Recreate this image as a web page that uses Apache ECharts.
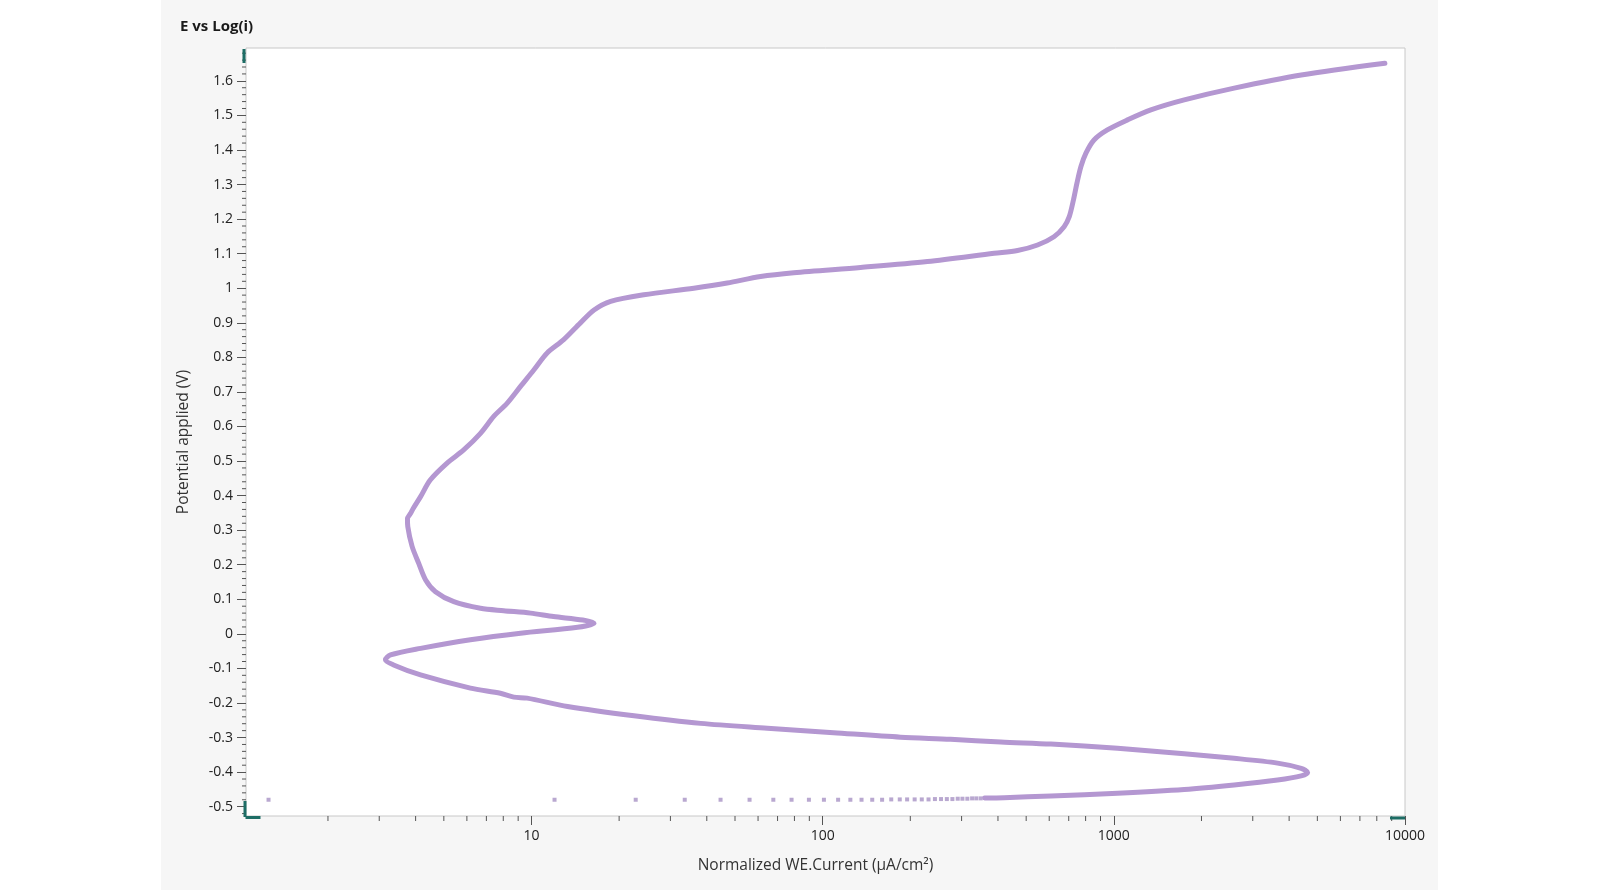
<!DOCTYPE html>
<html>
<head>
<meta charset="utf-8">
<script src="https://cdn.jsdelivr.net/npm/echarts@6/dist/echarts.min.js"></script>
<style>
html,body{margin:0;padding:0;background:#ffffff;}
#chart{width:1600px;height:890px;}
</style>
</head>
<body>
<div id="chart"></div>
<script>
// ---- data ----
const curveCurrent = [360, 420, 608, 1030, 1745, 2590, 3650, 4400, 4630, 4400, 3650, 2590, 1745, 1030, 608, 409, 275, 185, 109, 64.6, 38.1, 22.5, 13.3, 9.66, 8.7, 7.82, 6.17, 4.16, 3.36, 3.15, 3.28, 4.16, 6.17, 9.17, 14.4, 16.4, 15.0, 11.9, 9.93, 8.03, 6.68, 5.41, 4.68, 4.33, 4.10, 3.89, 3.76, 3.75, 3.84, 3.92, 4.16, 4.49, 5.13, 5.85, 6.68, 7.42, 8.24, 9.17, 10.2, 11.3, 12.9, 14.7, 16.4, 18.7, 24.3, 36.1, 47, 61.2, 79.6, 135, 229, 388, 467, 547, 623, 675, 703, 727, 747, 771, 802, 855, 950, 1114, 1340, 1745, 2590, 4400, 8530];
const curvePotential = [-0.475, -0.474, -0.469, -0.461, -0.450, -0.437, -0.423, -0.411, -0.401, -0.389, -0.374, -0.360, -0.347, -0.331, -0.319, -0.313, -0.305, -0.299, -0.286, -0.273, -0.259, -0.237, -0.210, -0.186, -0.183, -0.172, -0.157, -0.119, -0.090, -0.075, -0.061, -0.042, -0.017, 0.002, 0.019, 0.031, 0.040, 0.050, 0.060, 0.067, 0.074, 0.093, 0.122, 0.156, 0.204, 0.253, 0.310, 0.333, 0.348, 0.362, 0.397, 0.445, 0.494, 0.532, 0.580, 0.629, 0.667, 0.716, 0.764, 0.812, 0.851, 0.899, 0.937, 0.962, 0.981, 1.000, 1.015, 1.034, 1.045, 1.060, 1.077, 1.101, 1.109, 1.125, 1.149, 1.178, 1.207, 1.256, 1.304, 1.352, 1.391, 1.429, 1.458, 1.487, 1.516, 1.545, 1.579, 1.617, 1.651];
const dotCurrent = [1.25, 12.0, 22.8, 33.6, 44.6, 56.1, 67.7, 78.2, 89.7, 101, 113, 124.5, 136, 148, 160, 172, 184, 195, 207, 219, 231, 243, 255, 267, 279, 291, 302, 314, 326, 337, 349];
const dotPotential = [-0.480, -0.480, -0.480, -0.480, -0.480, -0.480, -0.480, -0.480, -0.480, -0.480, -0.480, -0.480, -0.480, -0.480, -0.480, -0.479, -0.479, -0.479, -0.479, -0.479, -0.479, -0.478, -0.478, -0.478, -0.478, -0.477, -0.477, -0.477, -0.476, -0.476, -0.476];
const xMin = 1.046, xMax = 10000;
const yMin = -0.527, yMax = 1.695;
const xMajorTicks = [10, 100, 1000, 10000];
const yMajorStep = 0.1;

// minor tick values (axis values, not marks)
const xMinorTicks = [];
[1, 10, 100, 1000].forEach(d => { for (let k = 2; k <= 9; k++) { const v = d * k; if (v > xMin && v < xMax) xMinorTicks.push(v); } });
const yMinorTicks = [];
for (let i = Math.ceil(yMin / 0.02); i * 0.02 < yMax; i++) {
  const v = Math.round(i * 0.02 * 1000) / 1000;
  if (Math.abs(Math.round(v / yMajorStep) * yMajorStep - v) > 1e-6) yMinorTicks.push(v);
}

const FONT = 'Open Sans';
const chart = echarts.init(document.getElementById('chart'));
const teal = '#1d6d65';
chart.setOption({
  animation: false,
  backgroundColor: '#ffffff',
  graphic: [
    { type: 'rect', z: -10, silent: true, shape: { x: 161, y: 0, width: 1277, height: 890 }, style: { fill: '#f6f6f6' } },
    { type: 'rect', z: 100, silent: true, shape: { x: 242.5, y: 49, width: 3, height: 14 }, style: { fill: teal } },
    { type: 'rect', z: 100, silent: true, shape: { x: 243.5, y: 801, width: 3, height: 16 }, style: { fill: teal } },
    { type: 'rect', z: 100, silent: true, shape: { x: 245.5, y: 816, width: 15, height: 3 }, style: { fill: teal } },
    { type: 'rect', z: 100, silent: true, shape: { x: 1390, y: 816.5, width: 15, height: 3 }, style: { fill: teal } }
  ],
  title: {
    text: 'E vs Log(i)', left: 175, top: 14,
    textStyle: { fontFamily: FONT, fontWeight: 'bold', fontSize: 15, color: '#1a1a1a' }
  },
  grid: {
    left: 246, top: 48, right: 195, bottom: 74,
    show: true, backgroundColor: '#ffffff', borderColor: '#c8c8c8', borderWidth: 1
  },
  xAxis: {
    type: 'log', logBase: 10, min: xMin, max: xMax,
    name: 'Normalized WE.Current (µA/cm²)', nameLocation: 'middle', nameGap: 42,
    nameTextStyle: { fontFamily: FONT, fontSize: 15.5, color: '#333333', padding: [0, 20, 0, 0] },
    axisLine: { show: false, onZero: false },
    axisTick: { show: true, length: 9, lineStyle: { color: '#555555', width: 1 } },
    splitLine: { show: false },
    axisLabel: {
      showMinLabel: false, margin: 13, fontFamily: FONT, fontSize: 14, color: '#222222',
      formatter: v => { const r = Math.round(v); return xMajorTicks.indexOf(r) >= 0 ? String(r) : ''; }
    }
  },
  yAxis: {
    type: 'value', min: yMin, max: yMax, splitNumber: 22,
    name: 'Potential applied (V)', nameLocation: 'middle', nameGap: 54, nameRotate: 90,
    nameTextStyle: { fontFamily: FONT, fontSize: 15.5, color: '#333333', padding: [0, 0, 0, -20] },
    axisLine: { show: false, onZero: false },
    axisTick: { show: true, length: 9, lineStyle: { color: '#555555', width: 1 } },
    splitLine: { show: false },
    axisLabel: {
      showMinLabel: false, showMaxLabel: false, margin: 13, fontFamily: FONT, fontSize: 14, color: '#222222',
      formatter: v => String(Math.round(v * 10) / 10)
    }
  },
  series: [
    {
      type: 'custom', silent: true, clip: false, z: 1,
      data: xMinorTicks.map(v => [v, yMin]),
      renderItem: (params, api) => {
        const p = api.coord([api.value(0), yMin]);
        return { type: 'line', shape: { x1: p[0], y1: p[1], x2: p[0], y2: p[1] + 5 }, style: { stroke: '#555555', lineWidth: 1 } };
      }
    },
    {
      type: 'custom', silent: true, clip: false, z: 1,
      data: yMinorTicks.map(v => [xMin, v]),
      renderItem: (params, api) => {
        const p = api.coord([xMin, api.value(1)]);
        return { type: 'line', shape: { x1: p[0] - 4, y1: p[1], x2: p[0], y2: p[1] }, style: { stroke: '#555555', lineWidth: 1 } };
      }
    },
    {
      type: 'scatter', symbol: 'rect', symbolSize: 4, silent: true, z: 3,
      itemStyle: { color: '#a892c4' },
      data: dotCurrent.map((c, i) => [c, dotPotential[i]])
    },
    {
      type: 'line', showSymbol: false, smooth: 0.3, silent: true, z: 4,
      lineStyle: { color: '#b497d1', width: 5, cap: 'round', join: 'round' },
      data: curveCurrent.map((c, i) => [c, curvePotential[i]])
    }
  ]
});
</script>
</body>
</html>
